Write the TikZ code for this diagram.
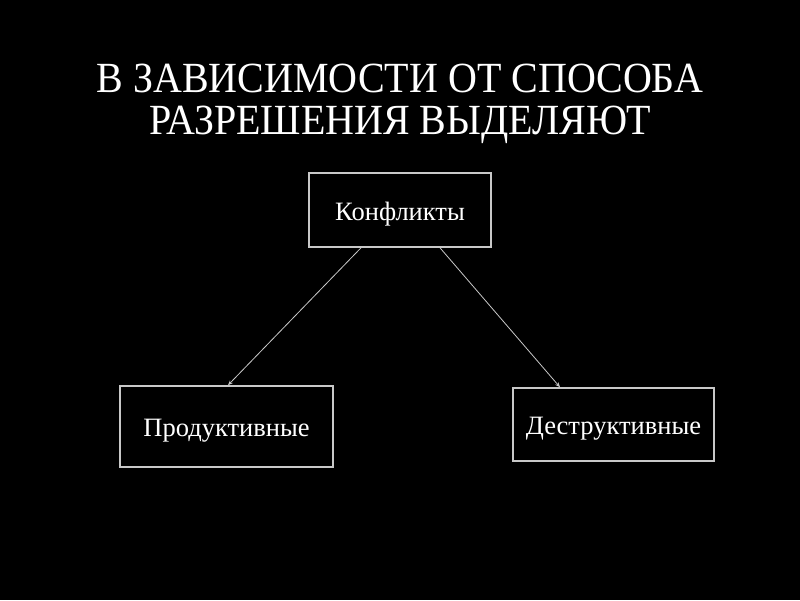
\documentclass[tikz,border=0pt]{standalone}
\usepackage{fontspec}
\setmainfont{Liberation Serif}
\usetikzlibrary{arrows.meta}
\begin{document}
\begin{tikzpicture}[x=1pt,y=-1pt,
  box/.style={draw=boxgray, line width=1.6pt, text=white, text height=24pt, text depth=3.5pt, font=\fontsize{26.5}{30}\selectfont},
  conn/.style={draw=boxgray, line width=0.8pt, -{Stealth[length=5pt,width=4pt]}},
  title/.style={text=white, align=center, font=\fontsize{43}{42}\selectfont}]
\definecolor{boxgray}{RGB}{200,200,200}
\fill[black] (0,0) rectangle (800,600);
\useasboundingbox (0,0) rectangle (800,600);
\node[title, xscale=0.93] (t) at (400,104) {В ЗАВИСИМОСТИ ОТ СПОСОБА\\РАЗРЕШЕНИЯ ВЫДЕЛЯЮТ};
\node[box, minimum width=182pt, minimum height=74pt] (k) at (400,210) {Конфликты};
\node[box, minimum width=213pt, minimum height=81pt] (p) at (226.5,426.5) {Продуктивные};
\node[box, minimum width=201pt, minimum height=73pt] (d) at (613.5,424.5) {Деструктивные};
\draw[conn] (k.south -| 361,0) -- (p.north -| 228,0);
\draw[conn] (k.south -| 440,0) -- (d.north -| 560,0);
\end{tikzpicture}
\end{document}
